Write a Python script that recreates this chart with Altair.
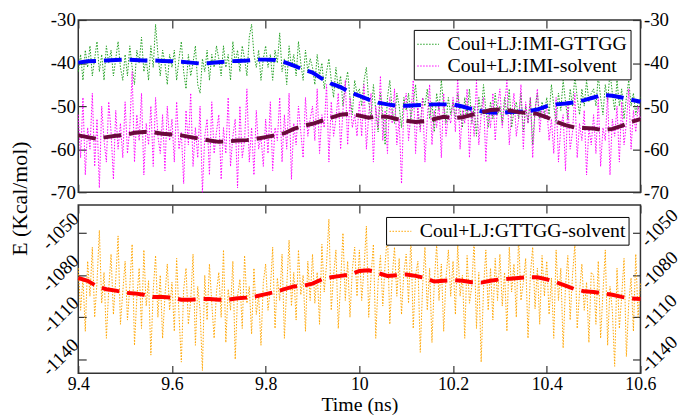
import altair as alt
import pandas as pd

# ---------------- data ----------------
t_noisy = [round(9.4 + i * 0.005, 3) for i in range(241)]
t_mean = [round(9.4 + i * 0.02, 2) for i in range(61)]

imi_gttgg = [
    -42, -38, -44, -37, -41, -36, -43, -39, -35, -42, -38, -44, -36, -40, -37, -43, -39, -35, -41, -44,
    -38, -43, -36, -41, -45, -37, -40, -34, -42, -39, -44, -36, -41, -31, -38, -43, -37, -40, -45, -38,
    -41, -37, -44, -39, -35, -42, -46, -38, -43, -40, -36, -45, -47, -39, -42, -37, -44, -38, -41, -36,
    -39, -43, -36, -41, -38, -44, -35, -40, -37, -42, -36, -39, -43, -34, -31, -38, -41, -37, -44, -39,
    -36, -41, -38, -44, -37, -40, -33, -42, -39, -45, -36, -41, -38, -43, -35, -40, -44, -37, -42, -39,
    -41, -45, -38, -43, -40, -46, -42, -39, -44, -48, -41, -46, -43, -50, -45, -42, -48, -52, -44, -47,
    -46, -50, -44, -41, -49, -53, -45, -51, -56, -47, -52, -59, -48, -44, -51, -54, -47, -50, -55, -48,
    -51, -47, -53, -49, -45, -52, -55, -48, -50, -46, -53, -49, -56, -47, -51, -44, -50, -54, -48, -52,
    -49, -53, -47, -51, -55, -48, -52, -46, -54, -50, -57, -48, -52, -45, -51, -55, -49, -53, -47, -52,
    -50, -54, -48, -52, -46, -55, -51, -49, -53, -47, -56, -50, -54, -48, -59, -51, -47, -53, -49, -52,
    -48, -52, -45, -50, -54, -47, -51, -44, -49, -53, -46, -50, -43, -48, -52, -46, -50, -44, -49, -47,
    -46, -50, -43, -48, -52, -45, -49, -42, -47, -51, -44, -50, -46, -53, -48, -44, -50, -47, -52, -49,
    -48,
]

imi_solvent = [
    -52, -62, -48, -66, -55, -60, -47, -64, -53, -69, -50, -58, -63, -49, -56, -67, -51, -60, -54, -62,
    -49, -61, -55, -42, -63, -52, -58, -47, -66, -54, -59, -50, -64, -48, -57, -61, -52, -65, -50, -58,
    -53, -63, -49, -60, -56, -68, -51, -59, -47, -64, -55, -62, -50, -70, -57, -53, -66, -49, -61, -56,
    -52, -67, -55, -61, -48, -64, -57, -53, -69, -50, -62, -58, -46, -63, -55, -66, -51, -60, -57, -64,
    -53, -61, -49, -65, -55, -58, -48, -63, -52, -60, -47, -67, -54, -59, -50, -56, -62, -48, -57, -53,
    -50, -58, -46, -61, -52, -55, -45, -63, -49, -57, -53, -47, -60, -51, -44, -59, -48, -55, -52, -57,
    -49, -57, -45, -60, -52, -47, -63, -50, -55, -43, -58, -51, -61, -48, -54, -46, -59, -53, -68, -50,
    -47, -58, -52, -44, -61, -50, -56, -48, -63, -53, -45, -59, -51, -55, -49, -62, -47, -57, -52, -54,
    -48, -56, -43, -60, -51, -54, -46, -62, -50, -57, -44, -59, -52, -48, -63, -51, -55, -47, -58, -50,
    -46, -55, -50, -44, -59, -52, -47, -57, -53, -45, -60, -49, -54, -48, -62, -51, -46, -56, -50, -53,
    -50, -58, -53, -61, -48, -63, -55, -52, -65, -49, -60, -56, -47, -62, -54, -58, -51, -66, -55, -59,
    -52, -61, -48, -64, -55, -58, -47, -66, -53, -57, -50, -63, -49, -59, -54, -46, -60, -51, -56, -50,
    -53,
]

gttgg_solvent = [
    -1075, -1105, -1082, -1120, -1070, -1095, -1060, -1110, -1085, -1048, -1100, -1078, -1125, -1090, -1065, -1108, -1083, -1052, -1115, -1092,
    -1070, -1112, -1088, -1058, -1130, -1096, -1075, -1118, -1062, -1102, -1084, -1137, -1091, -1066, -1110, -1080, -1125, -1095, -1072, -1105,
    -1085, -1120, -1068, -1108, -1142, -1090, -1075, -1115, -1098, -1065, -1130, -1088, -1105, -1148, -1080, -1112, -1072, -1100, -1125, -1092,
    -1078, -1110, -1062, -1128, -1090, -1105, -1070, -1140, -1095, -1083, -1118, -1066, -1100, -1088, -1122, -1075, -1108, -1094, -1130, -1085,
    -1072, -1105, -1090, -1060, -1118, -1082, -1098, -1065, -1125, -1088, -1055, -1102, -1078, -1112, -1062, -1094, -1080, -1120, -1070, -1098,
    -1065, -1100, -1078, -1115, -1058, -1092, -1072, -1040, -1105, -1080, -1062, -1118, -1085, -1050, -1098, -1070, -1110, -1076, -1060, -1095,
    -1062, -1098, -1075, -1045, -1110, -1080, -1058, -1125, -1085, -1066, -1102, -1072, -1050, -1115, -1082, -1060, -1095, -1068, -1108, -1078,
    -1065, -1100, -1052, -1118, -1080, -1070, -1135, -1088, -1060, -1105, -1075, -1128, -1085, -1058, -1098, -1072, -1120, -1082, -1062, -1095,
    -1070, -1108, -1058, -1095, -1080, -1125, -1066, -1100, -1088, -1055, -1118, -1078, -1142, -1090, -1062, -1105, -1075, -1112, -1068, -1098,
    -1065, -1102, -1078, -1120, -1060, -1092, -1072, -1110, -1052, -1098, -1085, -1068, -1125, -1080, -1060, -1104, -1075, -1115, -1066, -1095,
    -1070, -1108, -1082, -1125, -1062, -1098, -1075, -1132, -1088, -1066, -1112, -1080, -1058, -1118, -1092, -1072, -1105, -1085, -1128, -1078,
    -1080, -1115, -1070, -1125, -1092, -1062, -1130, -1088, -1105, -1145, -1075, -1118, -1095, -1068, -1138, -1100, -1082, -1120, -1065, -1110,
    -1085,
]

imi_gttgg_mean = [
    -39.9, -39.6, -39.5, -39.4, -39.3, -39.2, -39.3, -39.4, -39.4, -39.5,
    -39.6, -39.7, -39.9, -40.1, -40.0, -39.8, -39.6, -39.5, -39.4, -39.2,
    -39.2, -39.3, -39.8, -40.6, -41.5, -42.2, -43.6, -44.8, -45.6, -46.8,
    -47.6, -48.5, -49.2, -49.6, -49.9, -49.9, -49.8, -49.7, -49.6, -49.6,
    -49.6, -50.1, -50.7, -51.2, -51.5, -51.6, -51.4, -51.3, -51.2, -50.8,
    -50.0, -49.6, -49.4, -49.1, -48.6, -48.0, -47.4, -47.6, -48.0, -48.5,
    -49.0,
]

imi_solvent_mean = [
    -56.8, -57.2, -57.6, -57.2, -56.9, -56.7, -56.2, -56.0, -56.1, -56.4,
    -56.6, -56.8, -57.2, -57.6, -58.0, -58.3, -58.2, -58.0, -57.9, -57.6,
    -57.2, -56.8, -56.3, -55.3, -54.6, -54.1, -53.4, -52.7, -52.0, -51.8,
    -52.2, -52.7, -52.4, -52.5, -53.0, -53.4, -53.7, -53.5, -53.0, -52.5,
    -52.8, -52.6, -52.0, -51.5, -50.9, -50.8, -51.0, -51.4, -51.6, -51.8,
    -52.6, -53.6, -54.4, -55.0, -55.1, -55.2, -55.6, -55.3, -54.6, -53.7,
    -53.0,
]

gttgg_solvent_mean = [
    -1082, -1084, -1088, -1090, -1091, -1092.5, -1093, -1094, -1095.5, -1095.5,
    -1096, -1097.5, -1097.5, -1097, -1097, -1097.5, -1097.5, -1096.5, -1096, -1095,
    -1093.5, -1092, -1090, -1088, -1087.5, -1086, -1083, -1081.5, -1080.5, -1079.5,
    -1077, -1076.5, -1078.5, -1080.5, -1080, -1079.5, -1080.5, -1082, -1084.5, -1084,
    -1083.5, -1084, -1085, -1085.3, -1084, -1083, -1082.5, -1082, -1081.5, -1081.5,
    -1083, -1085, -1087.5, -1090, -1091.5, -1092, -1093, -1094, -1095.5, -1096.5,
    -1097,
]

x_ticks = [9.4, 9.6, 9.8, 10.0, 10.2, 10.4, 10.6]
top_y_ticks = [-70, -60, -50, -40, -30]
bot_y_ticks = [-1140, -1110, -1080, -1050]

series_top = ["Coul+LJ:IMI-GTTGG", "Coul+LJ:IMI-solvent"]
series_bot = ["Coul+LJ:GTTGG-solvent"]

# ---------------- tables ----------------
top_noisy = pd.DataFrame({
    "t": t_noisy * 2,
    "E": imi_gttgg + imi_solvent,
    "series": [series_top[0]] * len(t_noisy) + [series_top[1]] * len(t_noisy),
})
bot_noisy = pd.DataFrame({"t": t_noisy, "E": gttgg_solvent, "series": series_bot[0]})
blue_df = pd.DataFrame({"t": t_mean, "E": imi_gttgg_mean})
maroon_df = pd.DataFrame({"t": t_mean, "E": imi_solvent_mean})
red_df = pd.DataFrame({"t": t_mean, "E": gttgg_solvent_mean})

FONT = "Liberation Serif"
TICK = 8
FRAME = "#333333"
NEG_LABEL = "'-' + format(abs(datum.value), 'd')"

xscale = alt.Scale(domain=[9.4, 10.6], nice=False, zero=False)
top_yscale = alt.Scale(domain=[-70, -30], nice=False, zero=False)
bot_yscale = alt.Scale(domain=[-1150, -1030], nice=False, zero=False)


def ax(orient, values, labels=True, **kw):
    base = dict(
        orient=orient, values=values, offset=-TICK, tickSize=TICK, tickColor=FRAME,
        tickWidth=1.2, domain=False, grid=False, labels=labels,
        labelFont=FONT, labelFontSize=19, labelColor="black", labelPadding=3,
        labelOverlap=False, labelFlush=False, title=None,
    )
    base.update(kw)
    return alt.Axis(**base)


def legend_box(offset):
    return alt.Legend(
        title=None, orient="top-right", offset=offset,
        fillColor="white", strokeColor="black", padding=3,
        labelFont=FONT, labelFontSize=20, labelColor="black", labelLimit=400,
        symbolType="stroke", symbolStrokeWidth=1, symbolDash=[1.5, 1.5], symbolSize=484,
        rowPadding=0, labelOffset=8,
    )


dashed = dict(strokeWidth=4, strokeDash=[18, 8])
dotted = dict(strokeWidth=1, strokeDash=[1.5, 1.5])

# ---------------- top panel ----------------
top_lines = alt.Chart(top_noisy).mark_line(**dotted).encode(
    x=alt.X("t:Q", scale=xscale, axis=ax("bottom", x_ticks, labels=False)),
    y=alt.Y("E:Q", scale=top_yscale, axis=ax(
        "left", top_y_ticks, labelExpr=NEG_LABEL,
        title="E (Kcal/mol)", titleFont=FONT, titleFontSize=22,
        titleFontWeight="normal", titleColor="black", titleX=-67, titleY=180,
        titleAngle=270, titleAlign="center", titleBaseline="middle")),
    color=alt.Color("series:N", scale=alt.Scale(domain=series_top, range=["#22a022", "#ff00ff"]),
                    legend=legend_box(10)),
    detail="series:N",
)
top_blue = alt.Chart(blue_df).mark_line(color="#0000ff", **dashed).encode(
    x=alt.X("t:Q", scale=xscale, axis=ax("top", x_ticks, labels=False)),
    y=alt.Y("E:Q", scale=top_yscale, axis=ax("right", top_y_ticks, labelExpr=NEG_LABEL)),
)
top_maroon = alt.Chart(maroon_df).mark_line(color="#6b0a3c", **dashed).encode(
    x=alt.X("t:Q", scale=xscale, axis=None),
    y=alt.Y("E:Q", scale=top_yscale, axis=None),
)
top = alt.layer(top_lines, top_blue, top_maroon).resolve_axis(
    x="independent", y="independent"
).properties(width=568, height=174)

# ---------------- bottom panel ----------------
bot_lines = alt.Chart(bot_noisy).mark_line(**dotted).encode(
    x=alt.X("t:Q", scale=xscale, axis=ax(
        "bottom", x_ticks, format="~g", labelPadding=2, labelFontSize=18,
        title="Time (ns)", titleFont=FONT, titleFontSize=20,
        titleFontWeight="normal", titleColor="black", titlePadding=2)),
    y=alt.Y("E:Q", scale=bot_yscale, axis=ax(
        "left", bot_y_ticks, labelExpr=NEG_LABEL, labelOffset=-18,
        labelAngle=315, labelAlign="right", labelBaseline="middle")),
    color=alt.Color("series:N", scale=alt.Scale(domain=series_bot, range=["#ffa500"]),
                    legend=legend_box(12)),
)
bot_red = alt.Chart(red_df).mark_line(color="#ff0000", **dashed).encode(
    x=alt.X("t:Q", scale=xscale, axis=ax("top", x_ticks, labels=False)),
    y=alt.Y("E:Q", scale=bot_yscale, axis=ax(
        "right", bot_y_ticks, labelExpr=NEG_LABEL, labelOffset=10,
        labelAngle=315, labelAlign="left", labelBaseline="middle")),
)
bottom = alt.layer(bot_lines, bot_red).resolve_axis(
    x="independent", y="independent"
).properties(width=568, height=170)

chart = alt.vconcat(top, bottom, spacing=13, bounds="flush").resolve_scale(
    color="independent"
).configure_view(
    stroke=FRAME, strokeWidth=1.5
).properties(padding={"left": 0, "top": 0, "right": 0, "bottom": 0})

chart.save("out.html", embed_options={"renderer": "svg", "actions": False})
